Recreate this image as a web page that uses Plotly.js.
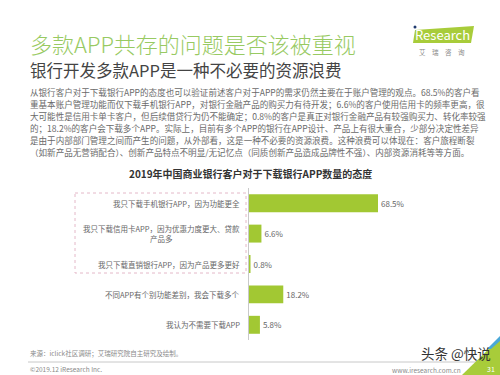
<!DOCTYPE html>
<html>
<head>
<meta charset="utf-8">
<script src="https://cdn.plot.ly/plotly-3.0.1.min.js"></script>
<style>html,body{margin:0;padding:0;background:#fff;}#chart{width:500px;height:375px;}</style>
</head>
<body>
<div id="chart"></div>
<script>
// ---- data ----
var categories = [
  "我只下载手机银行APP，因为功能更全",
  "我只下载信用卡APP，因为优惠力度更大、贷款<br>产品多",
  "我只下载直销银行APP，因为产品更多更好",
  "不同APP有个别功能差别，我会下载多个",
  "我认为不需要下载APP"
];
var values = [68.5, 6.6, 0.8, 18.2, 5.8];
var valueLabels = ["68.5%", "6.6%", "0.8%", "18.2%", "5.8%"];

var mainTitle = "多款APP共存的问题是否该被重视";
var subTitle = "银行开发多款APP是一种不必要的资源浪费";
var bodyLines = [
  "从银行客户对于下载银行APP的态度也可以验证前述客户对于APP的需求仍然主要在于账户管理的观点。68.5%的客户看",
  "重基本账户管理功能而仅下载手机银行APP，对银行金融产品的购买力有待开发；6.6%的客户使用信用卡的频率更高，很",
  "大可能性是信用卡单卡客户，但后续借贷行为仍不能确定；0.8%的客户是真正对银行金融产品有较强购买力、转化率较强",
  "的；18.2%的客户会下载多个APP。实际上，目前有多个APP的银行在APP设计、产品上有很大重合，少部分决定性差异",
  "是由于内部部门管理之间而产生的问题，从外部看，这是一种不必要的资源浪费。这种浪费可以体现在：客户旅程断裂",
  "（如新产品无营销配合）、创新产品特点不明显/无记忆点（同质创新产品造成品牌性不强）、内部资源消耗等等方面。"
];
var chartTitle = "2019年中国商业银行客户对于下载银行APP数量的态度";
var sourceText = "来源：iclick社区调研；艾瑞研究院自主研究及绘制。";
var copyText = "©2019.12 iResearch Inc.";
var siteText = "www.iresearch.com.cn";
var pageNum = "31";
var watermark = "头条 @快说";

// ---- layout helpers ----
var W = 500, H = 375, ML = 249, MR = 20, MT = 188, MB = 35;
var PW = W - ML - MR, PH = H - MT - MB;
function px(x){ return (x - ML) / PW; }
function py(y){ return (H - MB - y) / PH; }
var FONT = '"Noto Sans CJK SC", "Noto Sans", sans-serif';

var annotations = [];
function txt(t, x, y, size, color, opts){
  var a = {text: t, xref: 'paper', yref: 'paper', x: px(x), y: py(y), showarrow: false,
    xanchor: 'left', yanchor: 'middle', font: {family: FONT, size: size, color: color}};
  for (var k in (opts||{})) a[k] = opts[k];
  annotations.push(a);
}
txt(mainTitle, 28, 43, 22, '#98ca62', {font: {family: FONT, size: 22, color: '#98ca62', weight: 300}});
txt(subTitle, 28, 70, 16.5, '#444444');
bodyLines.forEach(function(l, i){ txt(l, 28, 92.5 + i * 11.9, 8.55, '#6a6a6a'); });
txt('<b>' + chartTitle + '</b>', 250, 173, 10, '#333333', {xanchor: 'center'});
txt(sourceText, 28, 353, 6.5, '#8a8a8a');
txt(copyText, 28, 369, 6.5, '#8a8a8a');
txt(siteText, 463, 369.5, 6.5, '#8a8a8a', {xanchor: 'right'});
txt(pageNum, 491, 369, 7, '#ffffff', {xanchor: 'center'});
txt('Research', 442, 35, 13, '#ffffff', {xanchor: 'center'});
txt('艾　瑞　咨　询', 442, 52, 6.5, '#888888', {xanchor: 'center'});
txt(watermark, 456, 353, 13.5, '#333333', {xanchor: 'center'});

// category labels (left of axis)
categories.forEach(function(c, i){
  annotations.push({text: c, xref: 'paper', yref: 'y', x: 0, y: c, xshift: -7,
    showarrow: false, xanchor: 'right', yanchor: 'middle', align: 'center',
    font: {family: FONT, size: 7.5, color: '#666666'}});
});

function pathPts(pts){
  return 'M' + pts.map(function(p){ return px(p[0]) + ',' + py(p[1]); }).join('L') + 'Z';
}
var shapes = [
  {type: 'rect', xref: 'paper', yref: 'paper', x0: px(75), x1: px(246), y0: py(193), y1: py(273),
   line: {color: '#e4b8c8', width: 1, dash: 'dot'}, fillcolor: 'rgba(0,0,0,0)'},
  {type: 'line', xref: 'paper', yref: 'paper', x0: px(28), x1: px(482), y0: py(362), y1: py(362),
   line: {color: '#c8c8c8', width: 1}},
  {type: 'path', xref: 'paper', yref: 'paper', path: pathPts([[415,30],[474,26],[471,43],[413,43]]),
   fillcolor: '#a8cc3a', line: {width: 0}},
  {type: 'circle', xref: 'paper', yref: 'paper', x0: px(413.5), x1: px(416.5), y0: py(25.5), y1: py(28.5),
   fillcolor: '#1f3a6e', line: {width: 0}},
  {type: 'path', xref: 'paper', yref: 'paper', path: pathPts([[462,375],[500,375],[500,338]]),
   fillcolor: '#a8cc3a', line: {width: 0}},
  {type: 'path', xref: 'paper', yref: 'paper', path: pathPts([[487,349],[500,336],[500,341],[491,349]]),
   fillcolor: '#4aa8d8', line: {width: 0}}
];

var data = [{
  type: 'bar', orientation: 'h', y: categories, x: values,
  text: valueLabels, textposition: 'outside', cliponaxis: false,
  textfont: {family: FONT, size: 8, color: '#666666'},
  marker: {color: '#a2c833'}, width: 0.59, hoverinfo: 'none'
}];

var layout = {
  width: W, height: H, margin: {l: ML, r: MR, t: MT, b: MB, pad: 0},
  paper_bgcolor: '#ffffff', plot_bgcolor: '#ffffff', showlegend: false,
  font: {family: FONT},
  xaxis: {range: [0, PW / (129 / 68.5)], visible: false, fixedrange: true},
  yaxis: {type: 'category', autorange: 'reversed', showticklabels: false, ticks: '',
          showgrid: false, zeroline: false, showline: true, linecolor: '#c9c9c9', linewidth: 1},
  annotations: annotations, shapes: shapes
};
Plotly.newPlot('chart', data, layout, {staticPlot: true, displayModeBar: false});
</script>
</body>
</html>
